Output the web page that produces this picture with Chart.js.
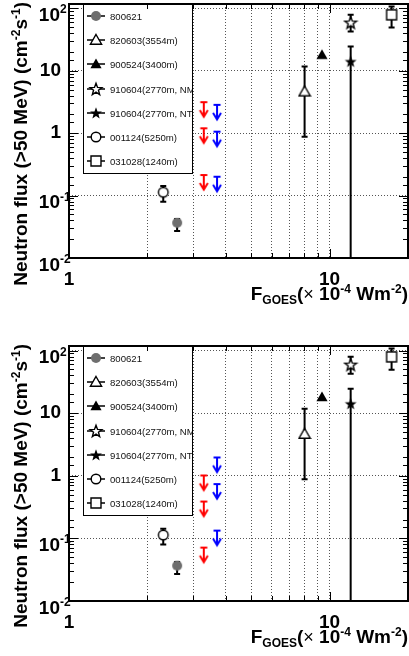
<!DOCTYPE html>
<html lang="en">
<head>
  <meta charset="UTF-8" />
  <title>Neutron flux vs F_GOES</title>
  <script src="https://cdn.jsdelivr.net/npm/chart.js@4"></script>
  <style>
    body { margin: 0; background: #fff; }
    canvas { position: absolute; left: 0; }
    #topChart { top: 0; }
    #bottomChart { top: 328px; }
  </style>
</head>
<body>
  <canvas id="topChart" width="409" height="328"></canvas>
  <canvas id="bottomChart" width="409" height="328"></canvas>

  <script>
    // events, in legend order
    const events = ['800621', '820603(3554m)', '900524(3400m)', '910604(2770m, NM)', '910604(2770m, NT)', '001124(5250m)', '031028(1240m)'];
    const fgoes  = [2.60, 8.02, 9.35, 12.05, 12.05, 2.30, 17.3];
    const flux   = [0.0367, 4.65, 18.1, 59.6, 14.1, 0.113, 79.2];
    const fluxHi = [0.042, 11.7, null, 79.2, 24.6, 0.143, 107.7];
    const fluxLo = [0.027, 0.88, null, 42.7, 0.001, 0.080, 49.5];

    // upper limits (arrows)
    const limRedX = 3.29;
    const limBlueX = 3.70;
    const topRed  = [3.15, 1.20, 0.214];
    const topBlue = [2.85, 1.06, 0.201];
    const botRed  = [1.01, 0.388, 0.0713];
    const botBlue = [1.96, 0.736, 0.133];

    // axis labels
    const xTickVals = [1, 10];
    const xTickText = ['1', '10'];
    const yTickVals = [100, 10, 1, 0.1, 0.01];
    const yTickText = [['10', '2'], ['10', ''], ['1', ''], ['10', '-1'], ['10', '-2']];

    const MAIN = 'bold 19px "Liberation Sans", Arial, sans-serif';
    const SMALL = 'bold 12px "Liberation Sans", Arial, sans-serif';
    const THIN = '18px "Liberation Sans", Arial, sans-serif';

    function mk(w, h, fn) {
      const c = document.createElement('canvas');
      c.width = w; c.height = h;
      fn(c.getContext('2d'), w / 2, h / 2);
      return c;
    }
    function starPath(g, x, y, R, r) {
      g.beginPath();
      for (let i = 0; i < 10; i++) {
        const a = -Math.PI / 2 + i * Math.PI / 5;
        const rr = i % 2 ? r : R;
        g.lineTo(x + rr * Math.cos(a), y + rr * Math.sin(a));
      }
      g.closePath();
    }
    function triPath(g, x, y) {
      g.beginPath();
      g.moveTo(x, y - 5.5); g.lineTo(x + 5.6, y + 4.2); g.lineTo(x - 5.6, y + 4.2);
      g.closePath();
    }
    function openFill(g) {
      g.fillStyle = '#fff'; g.fill();
      g.strokeStyle = '#000'; g.lineWidth = 1.4; g.stroke();
    }

    const markers = [
      mk(14, 14, (g, x, y) => { g.beginPath(); g.arc(x, y, 5, 0, 2 * Math.PI); g.fillStyle = '#6e6e6e'; g.fill(); }),
      mk(14, 14, (g, x, y) => { triPath(g, x, y); openFill(g); }),
      mk(14, 14, (g, x, y) => { triPath(g, x, y); g.fillStyle = '#000'; g.fill(); }),
      mk(16, 16, (g, x, y) => { starPath(g, x, y + 0.5, 6.2, 2.6); g.lineJoin = 'miter'; openFill(g); }),
      mk(16, 16, (g, x, y) => { starPath(g, x, y + 0.5, 6.2, 2.6); g.fillStyle = '#000'; g.fill(); }),
      mk(14, 14, (g, x, y) => { g.beginPath(); g.arc(x, y, 4.8, 0, 2 * Math.PI); openFill(g); }),
      mk(14, 14, (g, x, y) => { g.beginPath(); g.rect(x - 5, y - 5, 10, 10); openFill(g); })
    ];

    function arrowImg(col) {
      return mk(12, 36, (g, x, y) => {
        g.strokeStyle = col; g.lineWidth = 2;
        g.beginPath();
        g.moveTo(x - 3.5, y); g.lineTo(x + 3.5, y);
        g.moveTo(x, y); g.lineTo(x, y + 14);
        g.moveTo(x - 4, y + 8); g.lineTo(x, y + 14.5); g.lineTo(x + 4, y + 8);
        g.stroke();
      });
    }
    const redArrow = arrowImg('#ff0000');
    const blueArrow = arrowImg('#0000ff');

    function fontOf(p) {
      return p.s === 'thin' ? THIN : (p.s ? SMALL : MAIN);
    }
    function drawRich(ctx, parts, x, y) {
      parts.forEach(p => {
        ctx.font = fontOf(p);
        const dy = p.s === 'sup' ? -7 : (p.s === 'sub' ? 4 : 0);
        ctx.fillText(p.t, x, y + dy);
        x += ctx.measureText(p.t).width;
      });
    }
    function richWidth(ctx, parts) {
      let w = 0;
      parts.forEach(p => { ctx.font = fontOf(p); w += ctx.measureText(p.t).width; });
      return w;
    }

    const isInt = v => Math.abs(v - Math.round(v)) < 1e-6;
    const isDecade = v => isInt(Math.log10(v));

    const rootStyle = {
      id: 'rootStyle',
      beforeDatasetsDraw(chart) {
        const ctx = chart.ctx, a = chart.chartArea, ys = chart.scales.y;
        ctx.save();
        ctx.beginPath(); ctx.rect(a.left, a.top, a.right - a.left, a.bottom - a.top); ctx.clip();
        ctx.strokeStyle = '#000'; ctx.lineWidth = 2;
        chart.data.datasets.forEach((ds, i) => {
          if (!ds.hi) return;
          const meta = chart.getDatasetMeta(i);
          meta.data.forEach((pt, j) => {
            const hi = ds.hi[j], lo = ds.lo[j];
            if (hi == null) return;
            const y1 = ys.getPixelForValue(hi), y2 = ys.getPixelForValue(lo);
            ctx.beginPath();
            ctx.moveTo(pt.x, y1); ctx.lineTo(pt.x, y2);
            ctx.moveTo(pt.x - 3, y1); ctx.lineTo(pt.x + 3, y1);
            ctx.moveTo(pt.x - 3, y2); ctx.lineTo(pt.x + 3, y2);
            ctx.stroke();
          });
        });
        ctx.restore();
      },
      afterDatasetsDraw(chart) {
        const ctx = chart.ctx, a = chart.chartArea, xs = chart.scales.x, ys = chart.scales.y;
        ctx.save();

        // legend box
        const lx = 83, lw = 109, lh = 169, ly = a.top;
        ctx.fillStyle = '#fff';
        ctx.fillRect(lx, ly, lw, lh);
        ctx.strokeStyle = '#000'; ctx.lineWidth = 1;
        ctx.strokeRect(lx + 0.5, ly + 0.5, lw, lh);
        ctx.save();
        ctx.beginPath(); ctx.rect(lx, ly, lw, lh); ctx.clip();
        ctx.font = '9.6px "Liberation Sans", Arial, sans-serif';
        ctx.textBaseline = 'alphabetic';
        events.forEach((name, i) => {
          const cy = Math.round(ly + 12 + i * 24.2);
          ctx.strokeStyle = '#000'; ctx.lineWidth = 1.5;
          ctx.beginPath(); ctx.moveTo(87, cy); ctx.lineTo(105, cy); ctx.stroke();
          const m = markers[i];
          ctx.drawImage(m, 96 - m.width / 2, cy - m.height / 2);
          ctx.fillStyle = '#111';
          ctx.fillText(name, 110, cy + 3.5);
        });
        ctx.restore();

        // tick marks (inside, all four sides)
        ctx.strokeStyle = '#000'; ctx.lineWidth = 1;
        xs.ticks.forEach(t => {
          const v = t.value;
          if (v < 1.5 || v > 10.5) return;
          const len = isDecade(v) ? 9 : 5;
          const px = Math.round(xs.getPixelForValue(v)) + 0.5;
          ctx.beginPath();
          ctx.moveTo(px, a.bottom); ctx.lineTo(px, a.bottom - len);
          ctx.moveTo(px, a.top); ctx.lineTo(px, a.top + len);
          ctx.stroke();
        });
        ys.ticks.forEach(t => {
          const v = t.value;
          if (v < 0.0105 || v > 100.5) return;
          const len = isDecade(v) ? 9 : 5;
          const py = Math.round(ys.getPixelForValue(v)) + 0.5;
          ctx.beginPath();
          ctx.moveTo(a.left, py); ctx.lineTo(a.left + len, py);
          ctx.moveTo(a.right, py); ctx.lineTo(a.right - len, py);
          ctx.stroke();
        });

        // frame
        ctx.lineWidth = 2;
        ctx.strokeRect(a.left, a.top, a.right - a.left, a.bottom - a.top);
        ctx.restore();
      },
      afterDraw(chart) {
        const ctx = chart.ctx, a = chart.chartArea, xs = chart.scales.x, ys = chart.scales.y;
        ctx.save();
        ctx.fillStyle = '#000';
        ctx.textBaseline = 'alphabetic';

        // y tick labels
        yTickVals.forEach((v, i) => {
          const gy = ys.getPixelForValue(v);
          const [base, exp] = yTickText[i];
          ctx.font = MAIN;
          const bw = ctx.measureText(base).width;
          if (exp) {
            const x0 = a.left - 9 - bw;
            ctx.fillText(base, x0, gy + 12.5);
            ctx.font = SMALL;
            ctx.fillText(exp, x0 + bw, gy + 5);
          } else {
            ctx.fillText(base, a.left - 8 - bw, gy + 5);
          }
        });

        // x tick labels
        ctx.font = MAIN;
        ctx.textAlign = 'center';
        xTickVals.forEach((v, i) => {
          ctx.fillText(xTickText[i], xs.getPixelForValue(v), a.bottom + 27);
        });
        ctx.textAlign = 'left';

        // axis titles
        const xTitle = [{ t: 'F' }, { t: 'GOES', s: 'sub' }, { t: '(' }, { t: '\u00d7', s: 'thin' }, { t: ' 10' }, { t: '-4', s: 'sup' }, { t: ' Wm' }, { t: '-2', s: 'sup' }, { t: ')' }];
        drawRich(ctx, xTitle, a.right - richWidth(ctx, xTitle), a.bottom + 42);

        const yTitle = [{ t: 'Neutron flux (>50 MeV) (cm' }, { t: '-2', s: 'sup' }, { t: 's' }, { t: '-1', s: 'sup' }, { t: ')' }];
        ctx.translate(27, a.top - 2);
        ctx.rotate(-Math.PI / 2);
        drawRich(ctx, yTitle, -richWidth(ctx, yTitle), 0);
        ctx.restore();
      }
    };

    function buildDatasets(red, blue) {
      const ds = events.map((name, i) => ({
        label: name,
        data: [{ x: fgoes[i], y: flux[i] }],
        pointStyle: markers[i],
        hi: [fluxHi[i]],
        lo: [fluxLo[i]]
      }));
      ds.push({ label: 'limit (red)', data: red.map(v => ({ x: limRedX, y: v })), pointStyle: redArrow });
      ds.push({ label: 'limit (blue)', data: blue.map(v => ({ x: limBlueX, y: v })), pointStyle: blueArrow });
      return ds;
    }

    function gridOpts(test) {
      return {
        grid: {
          color: c => (c.tick && test(c.tick.value)) ? '#555' : 'rgba(0,0,0,0)',
          lineWidth: 1,
          drawTicks: false
        },
        border: { display: false, dash: [1, 2] },
        ticks: { display: false }
      };
    }

    function makeChart(id, padTop, padBottom, red, blue) {
      new Chart(document.getElementById(id), {
        type: 'scatter',
        data: { datasets: buildDatasets(red, blue) },
        options: {
          responsive: false,
          animation: false,
          devicePixelRatio: 1,
          layout: { autoPadding: false, padding: { left: 69, right: 1, top: padTop, bottom: padBottom } },
          elements: { point: { radius: 5, hoverRadius: 5 } },
          plugins: { legend: { display: false }, tooltip: { enabled: false } },
          scales: {
            x: Object.assign({ type: 'logarithmic', min: 1, max: 20, afterFit: s => { s.height = 0; } },
              gridOpts(v => v > 1.5 && v < 10.5 && isInt(v))),
            y: Object.assign({ type: 'logarithmic', min: 0.01, max: 118, afterFit: s => { s.width = 0; } },
              gridOpts(v => v > 0.05 && v < 200 && isDecade(v)))
          }
        },
        plugins: [rootStyle]
      });
    }

    makeChart('topChart', 4, 70, topRed, topBlue);
    makeChart('bottomChart', 18, 55, botRed, botBlue);
  </script>
</body>
</html>
